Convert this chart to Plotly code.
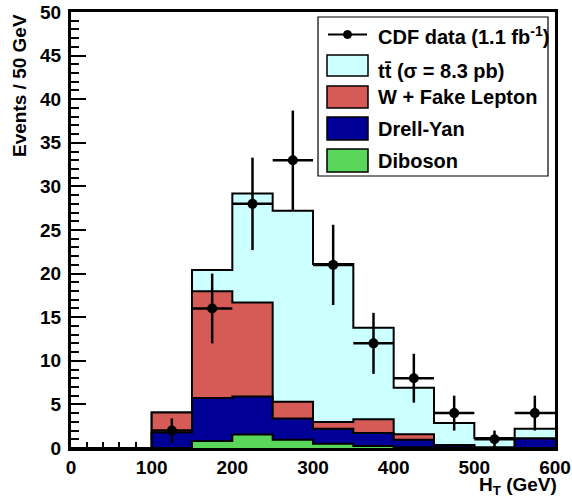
import numpy as np
import plotly.graph_objects as go

# ---------------- data ----------------
bin_edges = [0, 50, 100, 150, 200, 250, 300, 350, 400, 450, 500, 550, 600]
diboson   = [0, 0, 0.00, 0.80, 1.54, 0.96, 0.50, 0.23, 0.10, 0.02, 0.00, 0.00]
drellyan  = [0, 0, 1.77, 4.93, 4.36, 2.41, 1.72, 1.49, 0.86, 0.28, 0.05, 1.08]
fake_lep  = [0, 0, 2.29, 12.24, 10.80, 1.93, 0.76, 1.58, 0.61, 0.05, 0.00, 0.00]
ttbar     = [0, 0, 0.00, 2.43, 12.50, 21.90, 18.12, 10.50, 5.33, 2.52, 1.10, 1.12]

data_x    = [125, 175, 225, 275, 325, 375, 425, 475, 525, 575]
data_y    = [2, 16, 28, 33, 21, 12, 8, 4, 1, 4]
data_err  = [1.4, 4.0, 5.3, 5.7, 4.6, 3.5, 2.8, 2.0, 1.0, 2.0]
bin_width = 50

labels = ["CDF data (1.1 fb<sup>-1</sup>)", "tt\u0304 (σ = 8.3 pb)",
          "W + Fake Lepton", "Drell-Yan", "Diboson"]
colors = {"tt": "#ccffff", "fake": "#d65a56", "dy": "#000096", "dib": "#5ad65a"}

# ---------------- figure ----------------
W, H = 572, 500
L, R, T, B = 71, 17, 12, 52
pw, ph = W - L - R, H - T - B

def px(x):  # pixel -> paper x
    return (x - L) / pw

def py(y):  # pixel -> paper y
    return (H - B - y) / ph

cum_dib = np.array(diboson)
cum_dy = cum_dib + np.array(drellyan)
cum_fake = cum_dy + np.array(fake_lep)
cum_tot = cum_fake + np.array(ttbar)

fig = go.Figure()
for vals, col in [(cum_tot, colors["tt"]), (cum_fake, colors["fake"]),
                  (cum_dy, colors["dy"]), (cum_dib, colors["dib"])]:
    yy = list(vals) + [vals[-1]]
    fig.add_trace(go.Scatter(
        x=bin_edges, y=yy, mode="lines", line=dict(shape="hv", color="black", width=2),
        fill="tozeroy", fillcolor=col, hoverinfo="skip", showlegend=False))

fig.add_trace(go.Scatter(
    x=data_x, y=data_y, mode="markers",
    marker=dict(color="black", size=10, symbol="circle"),
    error_y=dict(type="data", array=data_err, color="black", thickness=2.5, width=0),
    error_x=dict(type="constant", value=bin_width / 2, color="black", thickness=2.5, width=0),
    showlegend=False))

font_fam = "Liberation Sans, Arial, sans-serif"

fig.update_layout(
    width=W, height=H, margin=dict(l=L, r=R, t=T, b=B, autoexpand=False),
    paper_bgcolor="white", plot_bgcolor="white",
    font=dict(family=font_fam, size=19, color="black", weight="bold"),
    showlegend=False,
    xaxis=dict(range=[0, 600], dtick=100, tick0=0, ticks="inside", ticklen=13, tickwidth=2,
               tickcolor="black", showgrid=False, zeroline=False, showline=True,
               linecolor="black", linewidth=3, mirror=True, layer="below traces",
               automargin=False,
               tickfont=dict(size=19, family=font_fam, weight="bold"),
               minor=dict(dtick=20, ticks="inside", ticklen=6, tickwidth=2, tickcolor="black",
                          showgrid=False)),
    yaxis=dict(range=[0, 50], dtick=5, tick0=0, ticks="inside", ticklen=15, tickwidth=2,
               tickcolor="black", showgrid=False, zeroline=False, showline=True,
               linecolor="black", linewidth=3, mirror=True, layer="below traces",
               automargin=False, ticklabelstandoff=3,
               tickfont=dict(size=19, family=font_fam, weight="bold"),
               minor=dict(dtick=1, ticks="inside", ticklen=7.5, tickwidth=2, tickcolor="black",
                          showgrid=False)),
)

# axis titles
fig.add_annotation(text="Events / 50 GeV", textangle=-90, xref="paper", yref="paper",
                   x=px(19.5), y=py(12), xanchor="center", yanchor="top", showarrow=False,
                   font=dict(size=19, family=font_fam, weight="bold"))
fig.add_annotation(text="H<sub>T</sub> (GeV)", xref="paper", yref="paper",
                   x=px(559), y=py(472), xanchor="right", yanchor="top", showarrow=False,
                   font=dict(size=19, family=font_fam, weight="bold"))

# legend (drawn manually)
shapes = []
shapes.append(dict(type="rect", xref="paper", yref="paper", x0=px(318), x1=px(548),
                   y0=py(176), y1=py(17), line=dict(color="black", width=1.2),
                   fillcolor="white", layer="above"))
# data entry
shapes.append(dict(type="line", xref="paper", yref="paper", x0=px(328), x1=px(367),
                   y0=py(34.5), y1=py(34.5), line=dict(color="black", width=2), layer="above"))
shapes.append(dict(type="circle", xref="paper", yref="paper", x0=px(343.5), x1=px(351.5),
                   y0=py(38.5), y1=py(30.5), line=dict(color="black", width=1),
                   fillcolor="black", layer="above"))
box_rows = [(55, 76, colors["tt"]), (86, 108, colors["fake"]),
            (117, 140, colors["dy"]), (149, 172, colors["dib"])]
for y0, y1, col in box_rows:
    shapes.append(dict(type="rect", xref="paper", yref="paper", x0=px(327), x1=px(368),
                       y0=py(y1), y1=py(y0), line=dict(color="black", width=1.5),
                       fillcolor=col, layer="above"))
fig.update_layout(shapes=shapes)

text_y = [35.5, 71, 97, 129, 161]
for lab, ty in zip(labels, text_y):
    fig.add_annotation(text=lab, xref="paper", yref="paper", x=px(376), y=py(ty),
                       xanchor="left", yanchor="middle", showarrow=False,
                       font=dict(size=20, family=font_fam, weight="bold"))

fig.write_html("out.html")
